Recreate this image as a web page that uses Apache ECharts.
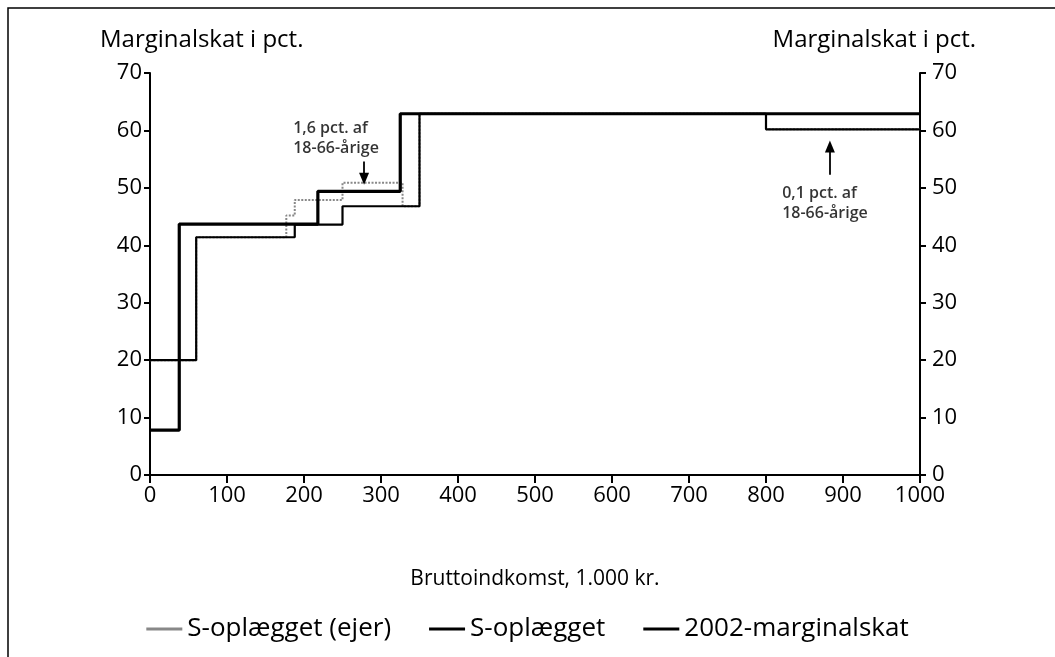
<!DOCTYPE html>
<html>
<head>
<meta charset="utf-8">
<script src="https://cdn.jsdelivr.net/npm/echarts@6/dist/echarts.min.js"></script>
<style>
html,body{margin:0;padding:0;background:#fff;}
#c{width:1055px;height:657px;}
</style>
</head>
<body>
<div id="c"></div>
<script>
// Income breakpoints (1.000 kr.) and marginal tax (pct.) for step lines
const ejerX = [0, 60, 177, 188, 250, 328, 350, 800, 1000];
const ejerY = [20, 41.4, 45.2, 47.9, 50.9, 46.8, 62.9, 60.2, 60.2];
const sX = [0, 60, 188, 250, 350, 800, 1000];
const sY = [20, 41.4, 43.6, 46.8, 62.9, 60.2, 60.2];
const m2002X = [0, 38, 218, 325, 1000];
const m2002Y = [7.8, 43.7, 49.4, 62.9, 62.9];
const seriesNames = ['S-oplægget (ejer)', 'S-oplægget', '2002-marginalskat'];
const yAxisTitle = 'Marginalskat i pct.';
const xAxisTitle = 'Bruttoindkomst, 1.000 kr.';
const annotTexts = ['1,6 pct. af\n18-66-årige', '0,1 pct. af\n18-66-årige'];
const annotPos = [[186, 58.6], [821, 47.3]];
const arrow1 = [[278, 54.6], [278, 51.6]];
const arrow2 = [[883, 52.3], [883, 57.2]];

function pts(xs, ys) { return xs.map((x, i) => [x, ys[i]]); }

const FONT = 'Open Sans';
const chart = echarts.init(document.getElementById('c'));
const axisLabelStyle = { color: '#000', fontSize: 22, fontFamily: FONT };
const yCommon = {
  type: 'value', min: 0, max: 70, interval: 10,
  axisLine: { show: true, lineStyle: { color: '#000', width: 2 } },
  axisTick: { show: true, length: 6, lineStyle: { color: '#000', width: 2 } },
  splitLine: { show: false }
};
chart.setOption({
  animation: false,
  backgroundColor: '#fff',
  textStyle: { fontFamily: FONT },
  grid: { left: 150, right: 135, top: 73, bottom: 182 },
  xAxis: {
    type: 'value', min: 0, max: 1000, interval: 100,
    name: xAxisTitle, nameLocation: 'middle', nameGap: 94,
    nameTextStyle: { color: '#000', fontSize: 21, fontFamily: FONT },
    axisLine: { lineStyle: { color: '#000', width: 2 } },
    axisTick: { show: true, length: 8, lineStyle: { color: '#000', width: 2 } },
    axisLabel: Object.assign({ margin: 10, formatter: v => String(v) }, axisLabelStyle),
    splitLine: { show: false }
  },
  yAxis: [
    Object.assign({ position: 'left', axisLabel: Object.assign({ margin: 8 }, axisLabelStyle) }, yCommon),
    Object.assign({ position: 'right', axisLabel: Object.assign({ margin: 12 }, axisLabelStyle) }, yCommon)
  ],
  legend: {
    bottom: 10, left: 'center', itemWidth: 36, itemHeight: 3, itemGap: 38,
    icon: 'rect',
    textStyle: { color: '#000', fontSize: 26, fontFamily: FONT, padding: [0, 0, 0, 0] },
    data: [
      { name: seriesNames[0], itemStyle: { color: '#888' } },
      { name: seriesNames[1], itemStyle: { color: '#000' } },
      { name: seriesNames[2], itemStyle: { color: '#000' } }
    ]
  },
  graphic: [
    { type: 'rect', shape: { x: 8, y: 8, width: 1200, height: 800 },
      style: { fill: 'none', stroke: '#000', lineWidth: 1.5 }, silent: true, z: 100 },
    { type: 'text', left: 100, top: 28,
      style: { text: yAxisTitle, fill: '#000', font: '24px "Open Sans"' } },
    { type: 'text', right: 1055 - 976, top: 28,
      style: { text: yAxisTitle, fill: '#000', font: '24px "Open Sans"' } }
  ],
  series: [
    {
      name: seriesNames[0], type: 'line', step: 'end', symbol: 'none',
      data: pts(ejerX, ejerY), color: '#888',
      lineStyle: { color: '#888', width: 2, type: [2, 1.5] }, z: 1
    },
    {
      name: seriesNames[1], type: 'line', step: 'end', symbol: 'none',
      data: pts(sX, sY), color: '#000',
      lineStyle: { color: '#000', width: 2.2 }, z: 2,
      markLine: {
        silent: true, symbol: ['none', 'triangle'], symbolSize: [10, 12],
        lineStyle: { color: '#000', width: 1.8, type: 'solid' },
        label: { show: false },
        data: [
          [{ coord: arrow1[0] }, { coord: arrow1[1] }],
          [{ coord: arrow2[0] }, { coord: arrow2[1] }]
        ]
      }
    },
    {
      name: seriesNames[2], type: 'line', step: 'end', symbol: 'none',
      data: pts(m2002X, m2002Y), color: '#000',
      lineStyle: { color: '#000', width: 3.2 }, z: 3
    },
    {
      name: 'annot', type: 'scatter', symbolSize: 0, silent: true,
      data: annotPos.map((p, i) => ({ value: p, label: { formatter: annotTexts[i] } })),
      label: { show: true, position: 'right', distance: 0, color: '#000', fontSize: 16,
        fontWeight: 600, fontFamily: FONT, lineHeight: 20, align: 'left' }
    }
  ]
});
</script>
</body>
</html>
